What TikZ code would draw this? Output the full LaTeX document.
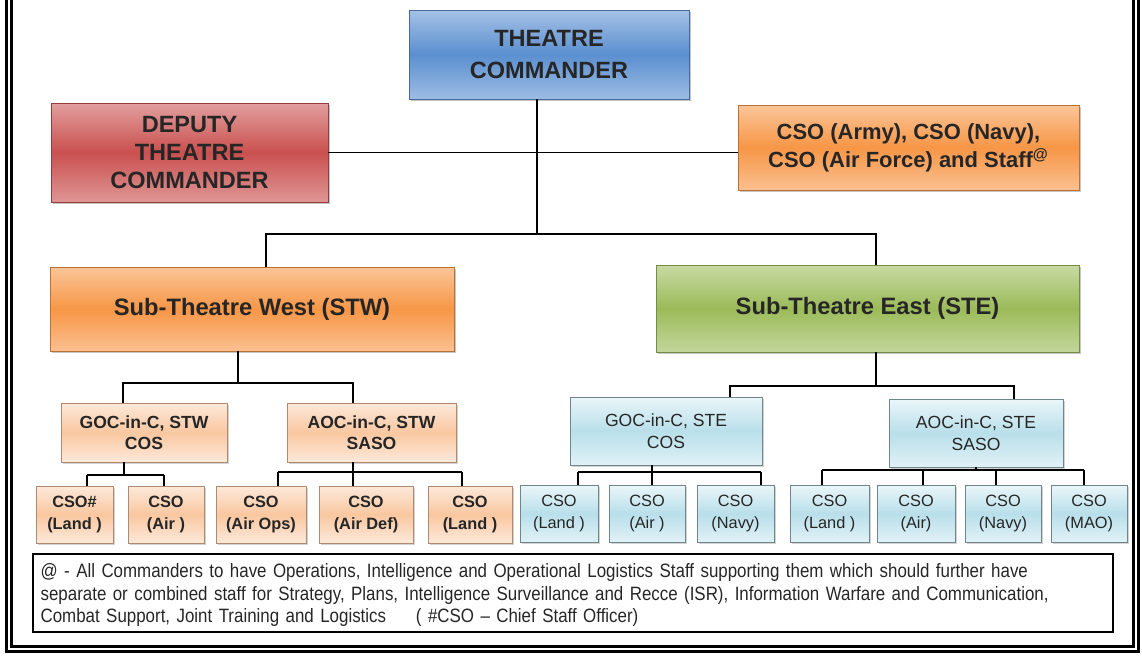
\documentclass[tikz,border=0pt]{standalone}
\usepackage{fontspec}
\setmainfont{Liberation Sans}
\newfontfamily\notefont[FakeStretch=0.875]{Liberation Sans}
\usetikzlibrary{shadows}

\definecolor{tcblue}{HTML}{5B8FD0}
\definecolor{tcred}{HTML}{C9504F}
\definecolor{tcorange}{HTML}{F79646}
\definecolor{tcgreen}{HTML}{9BBB59}
\definecolor{lopeach}{HTML}{F9C7A0}
\definecolor{lopeachtop}{HTML}{FDE9DA}
\definecolor{lobluecol}{HTML}{B9DFEA}
\definecolor{lobluetop}{HTML}{EAF6F9}

\tikzset{
  orgbox/.style={draw=#1!75!black, top color=#1!55!white, bottom color=#1!60!white, middle color=#1,
    drop shadow={shadow xshift=1.2pt,shadow yshift=-1.2pt,opacity=0.45}, align=center, inner sep=2pt, text=black!85},
  westbox/.style={draw=lopeach!70!black, top color=lopeachtop, bottom color=lopeachtop, middle color=lopeach,
    drop shadow={shadow xshift=1pt,shadow yshift=-1pt,opacity=0.35}, align=center, inner sep=1pt, text=black!85},
  eastbox/.style={draw=lobluecol!60!black, top color=lobluetop, bottom color=lobluetop!80!lobluecol, middle color=lobluecol,
    drop shadow={shadow xshift=1pt,shadow yshift=-1pt,opacity=0.35}, align=center, inner sep=1pt, text=black!85},
  conn/.style={line width=0.75pt, black},
}

\begin{document}
\begin{tikzpicture}[x=0.02cm, y=-0.02cm]
	\useasboundingbox (0,0) rectangle (1142,657);
	% outer frame
	\draw[line width=2.2pt] (6.5,-5) -- (6.5,651.5) -- (1138.5,651.5) -- (1138.5,-5);
	\draw[line width=1.4pt] (11.5,-5) -- (11.5,646.5) -- (1133.5,646.5) -- (1133.5,-5);

	% top level
	\node[orgbox=tcblue, minimum width=5.6cm, minimum height=1.78cm, font=\bfseries\fontsize{13.4}{18.7}\selectfont] (theatre) at (549,54.5) {THEATRE\\COMMANDER};
	\node[orgbox=tcred, minimum width=5.54cm, minimum height=1.98cm, font=\bfseries\fontsize{13.4}{16}\selectfont] (deputy) at (189.5,152.5) {DEPUTY\\THEATRE\\COMMANDER};
	\node[orgbox=tcorange, minimum width=6.82cm, minimum height=1.7cm, font=\bfseries\fontsize{12.5}{15.8}\selectfont] (cso) at (908.5,147.5) {CSO (Army), CSO (Navy),\\CSO (Air Force) and Staff\textsuperscript{@}};

	% sub-theatres
	\node[orgbox=tcorange, minimum width=8.08cm, minimum height=1.68cm, font=\bfseries\fontsize{13.5}{16}\selectfont] (stw) at (252,309) {Sub-Theatre West (STW)};
	\node[orgbox=tcgreen, minimum width=8.46cm, minimum height=1.74cm, font=\bfseries\fontsize{13.5}{16}\selectfont] (ste) at (867.5,308.5) {Sub-Theatre East (STE)};

	% component commanders
	\node[westbox, minimum width=3.32cm, minimum height=1.18cm, font=\bfseries\fontsize{10}{12}\selectfont] (gocw) at (144,432.5) {GOC-in-C, STW\\COS};
	\node[westbox, minimum width=3.38cm, minimum height=1.18cm, font=\bfseries\fontsize{10}{12}\selectfont] (aocw) at (371.5,432.5) {AOC-in-C, STW\\SASO};
	\node[eastbox, minimum width=3.84cm, minimum height=1.36cm, font=\fontsize{10}{12.3}\selectfont] (goce) at (666,431) {GOC-in-C, STE\\COS};
	\node[eastbox, minimum width=3.48cm, minimum height=1.36cm, font=\fontsize{10}{12.3}\selectfont] (aoce) at (976,433) {AOC-in-C, STE\\SASO};

	% chief staff officers
	\foreach \n/\x/\w/\t in {w1/74.5/1.54/CSO\#\\(Land ), w2/166/1.52/CSO\\(Air ), w3/261/1.8/CSO\\(Air Ops), w4/366/1.88/CSO\\(Air Def), w5/470/1.68/CSO\\(Land )}
		\node[westbox, minimum width=\w cm, minimum height=1.14cm, font=\bfseries\fontsize{9.3}{12}\selectfont] (\n) at (\x,514.5) {\t};
	\foreach \n/\x/\w/\t in {e1/559/1.56/CSO\\(Land ), e2/647/1.52/CSO\\(Air ), e3/735.5/1.54/CSO\\(Navy), e4/829.5/1.58/CSO\\(Land ), e5/916/1.56/CSO\\(Air), e6/1003/1.52/CSO\\(Navy), e7/1089/1.52/CSO\\(MAO)}
		\node[eastbox, minimum width=\w cm, minimum height=1.14cm, font=\fontsize{9.3}{12}\selectfont] (\n) at (\x,513.5) {\t};

	% connectors, upper part
	\coordinate (tbus) at (537,234);
	\coordinate (wdrop) at (266,234);
	\coordinate (edrop) at (876,234);
	\draw[conn] (theatre.south -| tbus) -- (tbus);
	\draw[conn] (deputy.east) -- (deputy.east -| cso.west);
	\draw[conn] (stw.north -| wdrop) -- (wdrop) -- (edrop) -- (ste.north -| edrop);

	\coordinate (wbus) at (238,383);
	\coordinate (wbusl) at (123,383);
	\coordinate (wbusr) at (353,383);
	\draw[conn] (stw.south -| wbus) -- (wbus);
	\draw[conn] (gocw.north -| wbusl) -- (wbusl) -- (wbusr) -- (aocw.north -| wbusr);

	\coordinate (ebus) at (876,386);
	\coordinate (ebusl) at (730,386);
	\coordinate (ebusr) at (1014,386);
	\draw[conn] (ste.south -| ebus) -- (ebus);
	\draw[conn] (goce.north -| ebusl) -- (ebusl) -- (ebusr) -- (aoce.north -| ebusr);

	% connectors, lower part
	\coordinate (gw) at (124,475);
	\draw[conn] (gocw.south -| gw) -- (gw);
	\foreach \x/\n in {87/w1,164/w2}{\coordinate (d\n) at (\x,475); \draw[conn] (d\n) -- (d\n |- \n.north);}
	\draw[conn] (dw1) -- (dw2);

	\coordinate (aw) at (353,472);
	\draw[conn] (aocw.south -| aw) -- (aw);
	\foreach \x/\n in {278/w3,353/w4,462/w5}{\coordinate (d\n) at (\x,472); \draw[conn] (d\n) -- (d\n |- \n.north);}
	\draw[conn] (dw3) -- (dw5);

	\coordinate (ge) at (652,472);
	\draw[conn] (goce.south -| ge) -- (ge);
	\foreach \x/\n in {578/e1,652/e2,761/e3}{\coordinate (d\n) at (\x,472); \draw[conn] (d\n) -- (d\n |- \n.north);}
	\draw[conn] (de1) -- (de3);

	\coordinate (ae) at (976,470);
	\draw[conn] (aoce.south) -- (ae);
	\foreach \x/\n in {822/e4,923/e5,996/e6,1084/e7}{\coordinate (d\n) at (\x,470); \draw[conn] (d\n) -- (d\n |- \n.north);}
	\draw[conn] (de4) -- (de7);

	% footnote
	\node[draw, line width=0.9pt, minimum width=21.6cm, minimum height=1.56cm] (note) at (573,593) {};
	\node[text width=21.3cm, align=left, inner sep=0pt, font=\notefont\fontsize{11}{12.9}\selectfont, text=black!85] (notetext) at ([yshift=-0.04cm]note.center)
	      {@ - All Commanders to have Operations, Intelligence and Operational Logistics Staff supporting them which should further have\\
	       separate or combined staff for Strategy, Plans, Intelligence Surveillance and Recce (ISR), Information Warfare and Communication,\\
	       Combat Support, Joint Training and Logistics\hspace{17pt}( \#CSO – Chief Staff Officer)};
\end{tikzpicture}
\end{document}
